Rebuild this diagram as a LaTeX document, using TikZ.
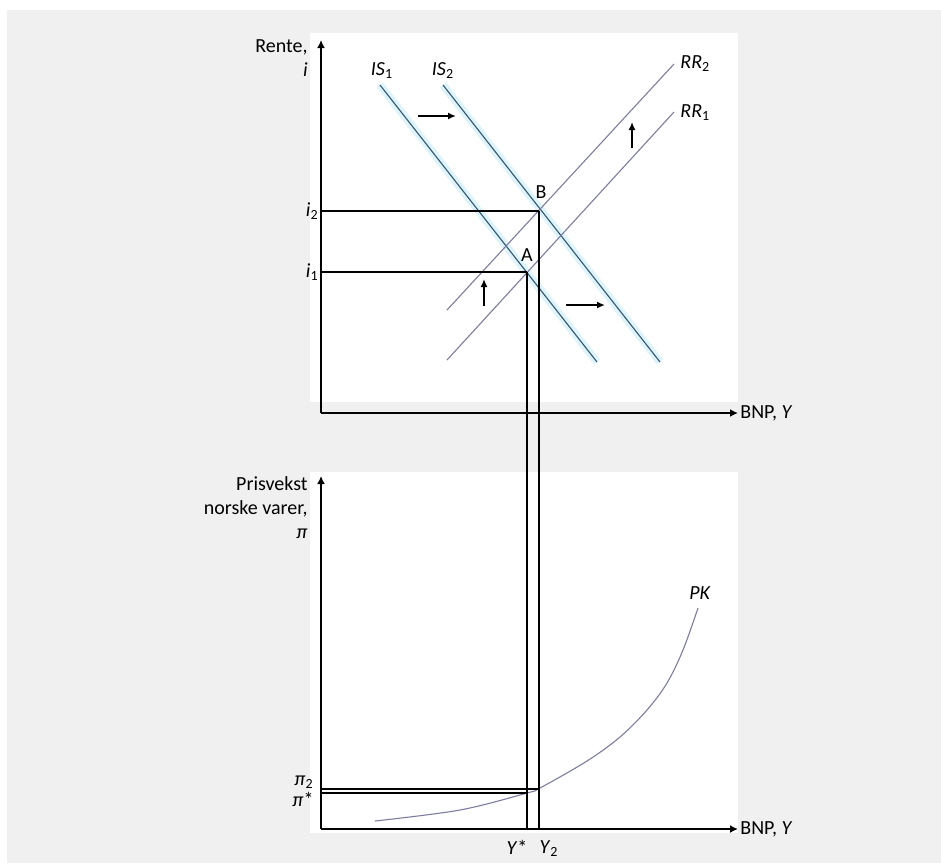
\documentclass[tikz,border=0pt]{standalone}
\usepackage{fontspec}
\setmainfont{Carlito}
\usepackage{tikz}
\usetikzlibrary{arrows.meta,positioning}
\definecolor{panelgrey}{RGB}{240,240,240}
\definecolor{isline}{RGB}{55,85,105}
\definecolor{isglow}{RGB}{222,244,252}
\definecolor{rrline}{RGB}{125,125,160}
\newcommand{\sublab}[2]{\textit{#1}\textsubscript{#2}}

\begin{document}
\begin{tikzpicture}[x=0.5pt, y=-0.5pt,
  axis/.style={line width=0.8pt, -{Latex[length=4pt,width=4pt]}},
  guide/.style={line width=0.8pt},
  iscurve/.style={draw=isline, line width=0.55pt, preaction={draw=isglow, line width=4pt}},
  rrcurve/.style={draw=rrline, line width=0.55pt},
  shiftarrow/.style={line width=0.8pt, -{Latex[length=4pt,width=3.5pt]}},
  lab/.style={inner sep=1pt, font=\normalsize}
]
\useasboundingbox (0,0) rectangle (941,863);
\fill[panelgrey] (7,10) rectangle (941,863);
\fill[white] (310,33) rectangle (738,402);
\fill[white] (310,472) rectangle (738,833);

% upper panel: IS-RR
\coordinate (o1) at (321,413);
\coordinate (A) at (527,272);
\coordinate (B) at (539,211);
\coordinate (i1) at (321,272);
\coordinate (i2) at (321,211);
\draw[axis] (o1) -- (321,40) coordinate (ytop);
\draw[axis] (o1) -- (738,413) coordinate (xtop);
\node[lab, anchor=north east, align=right] (rente) at (310,37) {Rente,\\\textit{i}};
\node[lab, anchor=west] (bnp1) at (xtop) {BNP, \textit{Y}};

\draw[iscurve] (380,85) -- (597,362);
\draw[iscurve] (443,85) -- (660,362);
\draw[rrcurve] (447,360) -- (674,112);
\draw[rrcurve] (447,310) -- (674,64);
\node[lab] (is1) at (382,71) {\sublab{IS}{1}};
\node[lab] (is2) at (443,71) {\sublab{IS}{2}};
\node[lab, anchor=west] (rr2) at (678,64) {\sublab{RR}{2}};
\node[lab, anchor=west] (rr1) at (678,113) {\sublab{RR}{1}};

\draw[shiftarrow] (418,116) -- (456,116);
\draw[shiftarrow] (566,305) -- (605,305);
\draw[shiftarrow] (484,306) -- (484,279);
\draw[shiftarrow] (632,148) -- (632,122);

\draw[guide] (i2) -- (B);
\draw[guide] (i1) -- (A);
\node[lab, anchor=east] (li2) at (i2) {\sublab{i}{2}};
\node[lab, anchor=east] (li1) at (i1) {\sublab{i}{1}};
\node[lab] (lA) at (527,255) {A};
\node[lab] (lB) at (541,192) {B};

% lower panel: PK
\coordinate (o2) at (321,829);
\coordinate (Ys) at (527,829);
\coordinate (Y2) at (539,829);
\coordinate (ps) at (321,793);
\coordinate (p2) at (321,789);
\draw[axis] (o2) -- (321,476) coordinate (ybot);
\draw[axis] (o2) -- (738,829) coordinate (xbot);
\node[lab, anchor=north east, align=right] (pris) at (310,474) {Prisvekst\\norske varer,\\\textit{π}};
\node[lab, anchor=west] (bnp2) at (xbot) {BNP, \textit{Y}};

\draw[rrcurve] plot[smooth, tension=0.55] coordinates {(375,821) (460,810) (527,793) (540,788) (587,761) (620,737) (647,710) (667,683) (683,650) (698,608)};
\node[lab] (pk) at (700,593) {\textit{PK}};

\draw[guide] (A) -- (Ys);
\draw[guide] (B) -- (Y2);
\draw[guide] (p2) -- (539,789);
\draw[guide] (ps) -- (527,793);
\node[lab, anchor=east] (lp2) at (316,782) {\sublab{π}{2}};
\node[lab, anchor=east] (lps) at (316,799) {\textit{π}*};
\node[lab, anchor=north] (lYs) at (517,838) {\textit{Y}*};
\node[lab, anchor=north] (lY2) at (549,838) {\sublab{Y}{2}};
\end{tikzpicture}
\end{document}
